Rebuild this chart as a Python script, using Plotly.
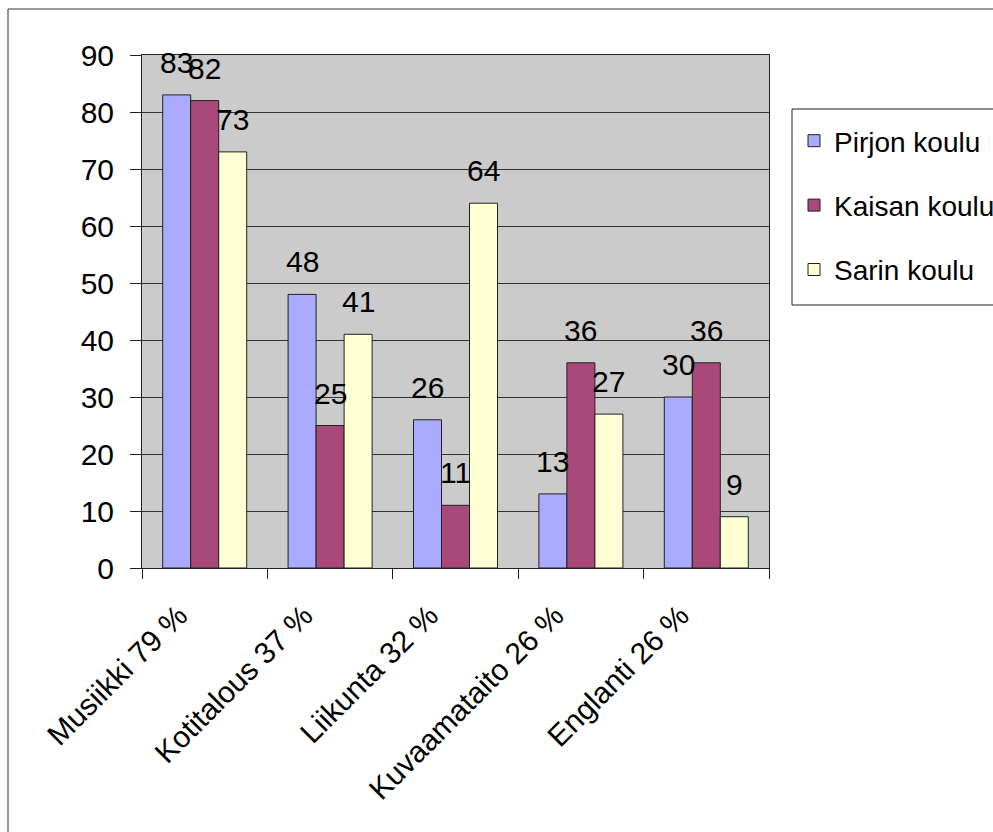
import plotly.graph_objects as go

# Survey results per subject and school
categories = ["Musiikki 79 %", "Kotitalous 37 %", "Liikunta 32 %", "Kuvaamataito 26 %", "Englanti 26 %"]
pirjon = [83, 48, 26, 13, 30]
kaisan = [82, 25, 11, 36, 36]
sarin = [73, 41, 64, 27, 9]
series_names = ["Pirjon koulu", "Kaisan koulu", "Sarin koulu"]
series_values = [pirjon, kaisan, sarin]
series_colors = ["#AAAAFF", "#A8497A", "#FFFFD4"]
y_ticks = [0, 10, 20, 30, 40, 50, 60, 70, 80, 90]

W, H = 993, 832
M_L, M_R, M_T, M_B = 142, 224, 55, 264
PLOT_W = W - M_L - M_R
PLOT_H = H - M_T - M_B
FONT = "Liberation Sans, Arial, sans-serif"
BARGAP = 0.33


def px_x(px):
    """Horizontal pixel position -> paper coordinate."""
    return (px - M_L) / PLOT_W


def px_y(px):
    """Vertical pixel position (from top) -> paper coordinate."""
    return 1 - (px - M_T) / PLOT_H


fig = go.Figure()
for name, vals, col in zip(series_names, series_values, series_colors):
    fig.add_trace(go.Bar(
        x=categories, y=vals, name=name,
        marker=dict(color=col, line=dict(color="#222222", width=1)),
        legendgroup=name,
    ))

# value labels above each bar
cat_w = PLOT_W / len(categories)
bar_w = cat_w * (1 - BARGAP) / len(series_names)
annotations = []
for k, vals in enumerate(series_values):
    for cat, v in zip(categories, vals):
        annotations.append(dict(
            x=cat, y=v, xref="x", yref="y", text=str(v), showarrow=False,
            xanchor="center", yanchor="bottom", yshift=14,
            xshift=(k - 1) * bar_w,
            font=dict(family=FONT, size=30, color="black"),
        ))

frame = dict(color="#333333", width=1)
fig.update_layout(
    width=W, height=H,
    margin=dict(l=M_L, r=M_R, t=M_T, b=M_B, autoexpand=False),
    paper_bgcolor="white", plot_bgcolor="#CBCBCB",
    barmode="group", bargap=BARGAP, bargroupgap=0,
    font=dict(family=FONT, size=30, color="black"),
    annotations=annotations,
    showlegend=True,
    legend=dict(
        x=px_x(794), y=px_y(116),
        xanchor="left", yanchor="top",
        bgcolor="rgba(0,0,0,0)", borderwidth=0,
        font=dict(family=FONT, size=28, color="black"),
        tracegroupgap=25, itemwidth=30,
    ),
    shapes=[
        # outer chart frame
        dict(type="line", xref="paper", yref="paper",
             x0=px_x(8), x1=px_x(W + 5), y0=px_y(9), y1=px_y(9), line=frame),
        dict(type="line", xref="paper", yref="paper",
             x0=px_x(8), x1=px_x(8), y0=px_y(9), y1=px_y(H + 5), line=frame),
        # legend box
        dict(type="rect", xref="paper", yref="paper", layer="below",
             x0=px_x(792), x1=px_x(W + 5), y0=px_y(109), y1=px_y(305),
             line=dict(color="#222222", width=1), fillcolor="white"),
    ],
)

fig.update_xaxes(
    type="category", tickson="boundaries", ticks="outside", ticklen=10,
    tickcolor="#222222", tickangle=-45, showline=True, linecolor="#222222",
    mirror=True, showgrid=False,
    tickfont=dict(family=FONT, size=30, color="black"),
    ticklabelshift=-26, ticklabelstandoff=17,
)
fig.update_yaxes(
    range=[0, 90], tickvals=y_ticks, ticks="outside", ticklen=11,
    tickcolor="#222222", showline=True, linecolor="#222222", mirror=True,
    showgrid=True, gridcolor="#333333", gridwidth=1, zeroline=False,
    tickfont=dict(family=FONT, size=30, color="black"),
    ticklabelstandoff=10,
)

fig.write_html("out.html")
